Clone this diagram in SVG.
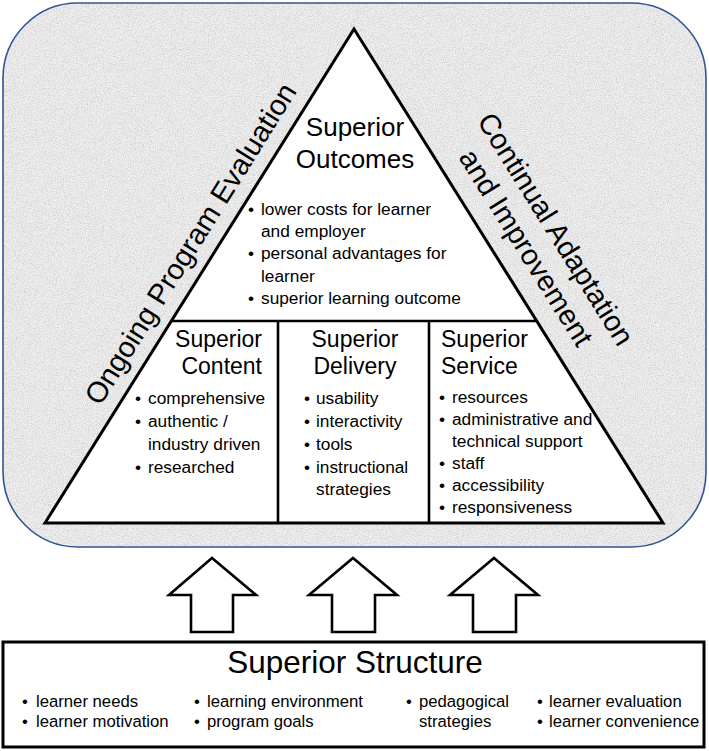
<svg xmlns="http://www.w3.org/2000/svg" width="709" height="751" viewBox="0 0 709 751">
<defs>
<style>
text{font-family:"Liberation Sans",Arial,sans-serif;fill:#000}
.h1{font-size:26px;text-anchor:middle}
.h2{font-size:23px}
.b{font-size:17.3px}
.bm{font-size:17.3px;text-anchor:middle}
.side{font-size:29px;text-anchor:middle}
.st{font-size:31.5px;text-anchor:middle}
.sb{font-size:16.7px}
.sbm{font-size:16.7px;text-anchor:middle}
.ln{stroke:#000;stroke-width:2.6;fill:none}
.arrow{fill:#fff;stroke:#000;stroke-width:2.6;stroke-linejoin:miter}
</style>
<filter id="paper" x="0" y="0" width="100%" height="100%">
<feTurbulence type="fractalNoise" baseFrequency="0.85" numOctaves="3" seed="5" result="n"/>
<feColorMatrix in="n" type="matrix" values="0 0 0 0 0.55 0 0 0 0 0.55 0 0 0 0 0.55 1.6 0 0 0 -0.62" result="g"/>
<feComposite in="g" in2="SourceGraphic" operator="in"/>
</filter>
</defs>

<g id="frame">
<rect x="3" y="3" width="703" height="544" rx="75" ry="75" fill="#efefef"/>
<rect x="3" y="3" width="703" height="544" rx="75" ry="75" fill="#000" filter="url(#paper)"/>
<rect x="3" y="3" width="703" height="544" rx="75" ry="75" fill="none" stroke="#2f5597" stroke-width="1.6"/>
</g>

<g id="triangle">
<polygon points="354,29 663,523 45,523" fill="#fff" stroke="#000" stroke-width="3" stroke-linejoin="miter"/>
<line class="ln" x1="171.4" y1="321" x2="536.6" y2="321"/>
<line class="ln" x1="278" y1="321" x2="278" y2="523"/>
<line class="ln" x1="429" y1="321" x2="429" y2="523"/>
</g>

<g id="outcomes">
<text class="h1" x="355" y="136">Superior</text>
<text class="h1" x="355" y="168">Outcomes</text>
<text class="bm" x="251" y="215">•</text><text class="b" x="261" y="215">lower costs for learner</text>
<text class="b" x="261" y="237">and employer</text>
<text class="bm" x="251" y="259">•</text><text class="b" x="261" y="259">personal advantages for</text>
<text class="b" x="261" y="282">learner</text>
<text class="bm" x="251" y="304">•</text><text class="b" x="261" y="304">superior learning outcome</text>
</g>

<g id="content">
<text class="h2" x="262" y="347" text-anchor="end">Superior</text>
<text class="h2" x="262" y="374" text-anchor="end">Content</text>
<text class="bm" x="138" y="404">•</text><text class="b" x="148" y="404">comprehensive</text>
<text class="bm" x="138" y="427">•</text><text class="b" x="148" y="427">authentic /</text>
<text class="b" x="148" y="450">industry driven</text>
<text class="bm" x="138" y="473">•</text><text class="b" x="148" y="473">researched</text>
</g>

<g id="delivery">
<text class="h2" x="355" y="347" text-anchor="middle">Superior</text>
<text class="h2" x="355" y="374" text-anchor="middle">Delivery</text>
<text class="bm" x="307" y="404">•</text><text class="b" x="316" y="404">usability</text>
<text class="bm" x="307" y="427">•</text><text class="b" x="316" y="427">interactivity</text>
<text class="bm" x="307" y="450">•</text><text class="b" x="316" y="450">tools</text>
<text class="bm" x="307" y="473">•</text><text class="b" x="316" y="473">instructional</text>
<text class="b" x="316" y="495">strategies</text>
</g>

<g id="service">
<text class="h2" x="441" y="347">Superior</text>
<text class="h2" x="441" y="374">Service</text>
<text class="bm" x="442" y="403">•</text><text class="b" x="452" y="403">resources</text>
<text class="bm" x="442" y="425">•</text><text class="b" x="452" y="425">administrative and</text>
<text class="b" x="452" y="447">technical support</text>
<text class="bm" x="442" y="469">•</text><text class="b" x="452" y="469">staff</text>
<text class="bm" x="442" y="491">•</text><text class="b" x="452" y="491">accessibility</text>
<text class="bm" x="442" y="513">•</text><text class="b" x="452" y="513">responsiveness</text>
</g>

<g id="evaluation-label">
<text class="side" transform="translate(198.9,248.9) rotate(-58)">Ongoing Program Evaluation</text>
</g>

<g id="adaptation-label" transform="translate(517.7,252.9) rotate(58)">
<text class="side" x="0" y="-35">Continual Adaptation</text>
<text class="side" x="0" y="0">and Improvement</text>
</g>

<g id="connectors">
<path class="arrow" d="M212,558 L256,595 L233,595 L233,632 L191,632 L191,595 L169,595 Z"/>
<path class="arrow" d="M353,558 L397,595 L375,595 L375,632 L332,632 L332,595 L309,595 Z"/>
<path class="arrow" d="M494,558 L538,595 L516,595 L516,632 L473,632 L473,595 L450,595 Z"/>
</g>

<g id="structure">
<rect x="3" y="642" width="701" height="105" fill="#fff" stroke="#000" stroke-width="3"/>
<text class="st" x="355" y="673">Superior Structure</text>
<text class="sbm" x="25" y="707">•</text><text class="sb" x="36" y="707">learner needs</text>
<text class="sbm" x="25" y="727">•</text><text class="sb" x="36" y="727">learner motivation</text>
<text class="sbm" x="197" y="707">•</text><text class="sb" x="207" y="707">learning environment</text>
<text class="sbm" x="197" y="727">•</text><text class="sb" x="207" y="727">program goals</text>
<text class="sbm" x="409" y="707">•</text><text class="sb" x="419" y="707">pedagogical</text>
<text class="sb" x="419" y="727">strategies</text>
<text class="sbm" x="540" y="707">•</text><text class="sb" x="549" y="707">learner evaluation</text>
<text class="sbm" x="540" y="727">•</text><text class="sb" x="549" y="727">learner convenience</text>
</g>
</svg>
